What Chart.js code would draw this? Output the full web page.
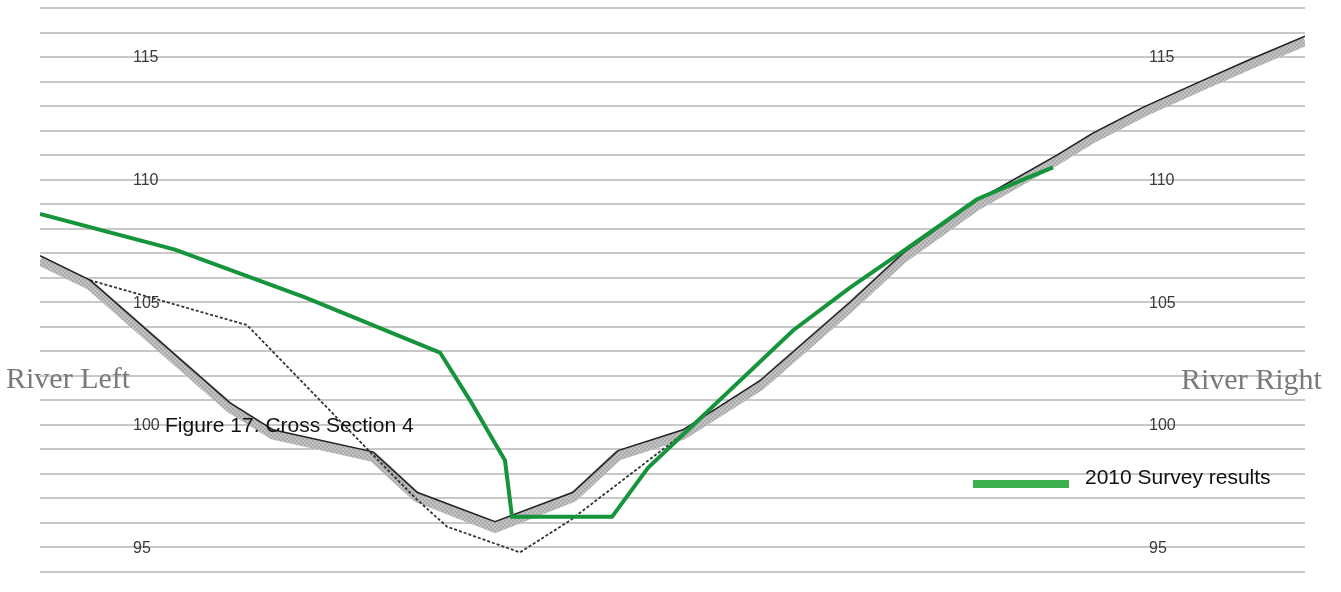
<!DOCTYPE html>
<html>
<head>
<meta charset="utf-8">
<script src="https://cdn.jsdelivr.net/npm/chart.js@4.4.1/dist/chart.umd.min.js"></script>
<style>
    html, body { margin: 0; padding: 0; background: #fff; }
    #wrap { position: relative; width: 1341px; height: 592px; }
    #chart { position: absolute; left: 0; top: 0; }
    .side { position: absolute; font-family: "Liberation Serif", "DejaVu Serif", serif; font-size: 30px; color: #7a7a7a; line-height: 1; white-space: nowrap; }
    .note { position: absolute; font-family: "Liberation Sans", Arial, sans-serif; font-size: 21px; color: #111; line-height: 1; white-space: nowrap; }
    .swatch { position: absolute; left: 973px; top: 480px; width: 96px; height: 8px; background: #3cae4b; }
</style>
</head>
<body>
<div id="wrap">
    <canvas id="chart" width="1341" height="592"></canvas>
    <div class="side" style="left:6px; top:363px;">River Left</div>
    <div class="side" style="left:1181px; top:364px;">River Right</div>
    <div class="note" style="left:165px; top:414px;">Figure 17. Cross Section 4</div>
    <div class="swatch"></div>
    <div class="note" style="left:1085px; top:466px;">2010 Survey results</div>
</div>
<script>
// cross section values (station, elevation)
const profileX = [0, 5, 19, 23.3, 33.3, 37.7, 45.5, 53.3, 57.8, 64.3, 72, 81, 86.3, 93.7, 101.7, 105.3, 110.3, 116, 121, 126.5];
const profileY = [106.9, 105.9, 100.9, 99.8, 98.9, 97.25, 96.05, 97.25, 98.95, 99.8, 101.8, 105.0, 107.0, 109.15, 111.0, 111.9, 112.95, 114.0, 114.9, 115.85];
const bandY = [106.7, 105.7, 100.7, 99.6, 98.7, 97.05, 95.8, 97.05, 98.75, 99.6, 101.6, 104.8, 106.8, 108.95, 110.8, 111.7, 112.75, 113.8, 114.7, 115.65];

const previousX = [5, 20.7, 33, 37.7, 40.7, 48, 53, 65];
const previousY = [105.9, 104.07, 98.9, 96.95, 95.85, 94.8, 96.1, 99.85];

const surveyX = [0, 13.5, 26.5, 40, 43, 46.5, 47.2, 57.2, 60.8, 75.3, 81, 86.7, 93.7, 98.3, 101.3];
const surveyY = [108.6, 107.15, 105.2, 102.95, 101.0, 98.55, 96.25, 96.25, 98.25, 103.85, 105.6, 107.2, 109.2, 110.0, 110.5];

const yTicks = [95, 100, 105, 110, 115];

function toPoints(xs, ys) {
    return xs.map((x, i) => ({ x: x, y: ys[i] }));
}

// hatched grey for the thick band
function bandPattern() {
    const c = document.createElement('canvas');
    c.width = 4; c.height = 4;
    const g = c.getContext('2d');
    g.fillStyle = '#c2c2c2';
    g.fillRect(0, 0, 4, 4);
    g.fillStyle = '#ababab';
    g.fillRect(0, 0, 2, 2);
    g.fillRect(2, 2, 2, 2);
    return g.createPattern(c, 'repeat');
}

// elevation labels drawn inside the plot, left and right
const tickLabels = {
    id: 'tickLabels',
    afterDatasetsDraw(chart) {
        const ctx = chart.ctx;
        const y = chart.scales.y;
        const area = chart.chartArea;
        ctx.save();
        ctx.font = '16px "Liberation Sans", Arial, sans-serif';
        ctx.fillStyle = '#3a3a3a';
        ctx.textAlign = 'left';
        ctx.textBaseline = 'middle';
        yTicks.forEach(v => {
            const py = y.getPixelForValue(v) + 1;
            ctx.fillText(String(v), area.left + 93, py);
            ctx.fillText(String(v), area.left + 1109, py);
        });
        ctx.restore();
    }
};

const ctx = document.getElementById('chart').getContext('2d');
new Chart(ctx, {
    type: 'line',
    data: {
        datasets: [
            {
                label: '2010 Survey results',
                data: toPoints(surveyX, surveyY),
                borderColor: '#15943c',
                borderWidth: 4,
                pointRadius: 0,
                tension: 0
            },
            {
                label: 'profile',
                data: toPoints(profileX, profileY),
                borderColor: '#222',
                borderWidth: 1.5,
                pointRadius: 0,
                tension: 0
            },
            {
                label: 'previous',
                data: toPoints(previousX, previousY),
                borderColor: '#333',
                borderWidth: 1.8,
                borderDash: [3, 2],
                pointRadius: 0,
                tension: 0
            },
            {
                label: 'band',
                data: toPoints(profileX, bandY),
                borderColor: bandPattern(),
                borderWidth: 10,
                pointRadius: 0,
                tension: 0
            }
        ]
    },
    options: {
        responsive: false,
        animation: false,
        layout: { padding: { left: 40, right: 36, top: 8, bottom: 20 } },
        plugins: {
            legend: { display: false },
            tooltip: { enabled: false }
        },
        scales: {
            x: {
                type: 'linear',
                min: 0,
                max: 126.5,
                display: false
            },
            y: {
                min: 94,
                max: 117,
                ticks: { display: false, stepSize: 1 },
                border: { display: false },
                grid: { color: '#c8c8c8', lineWidth: 2, drawTicks: false },
                afterFit(scale) { scale.width = 0; }
            }
        }
    },
    plugins: [tickLabels]
});
</script>
</body>
</html>
